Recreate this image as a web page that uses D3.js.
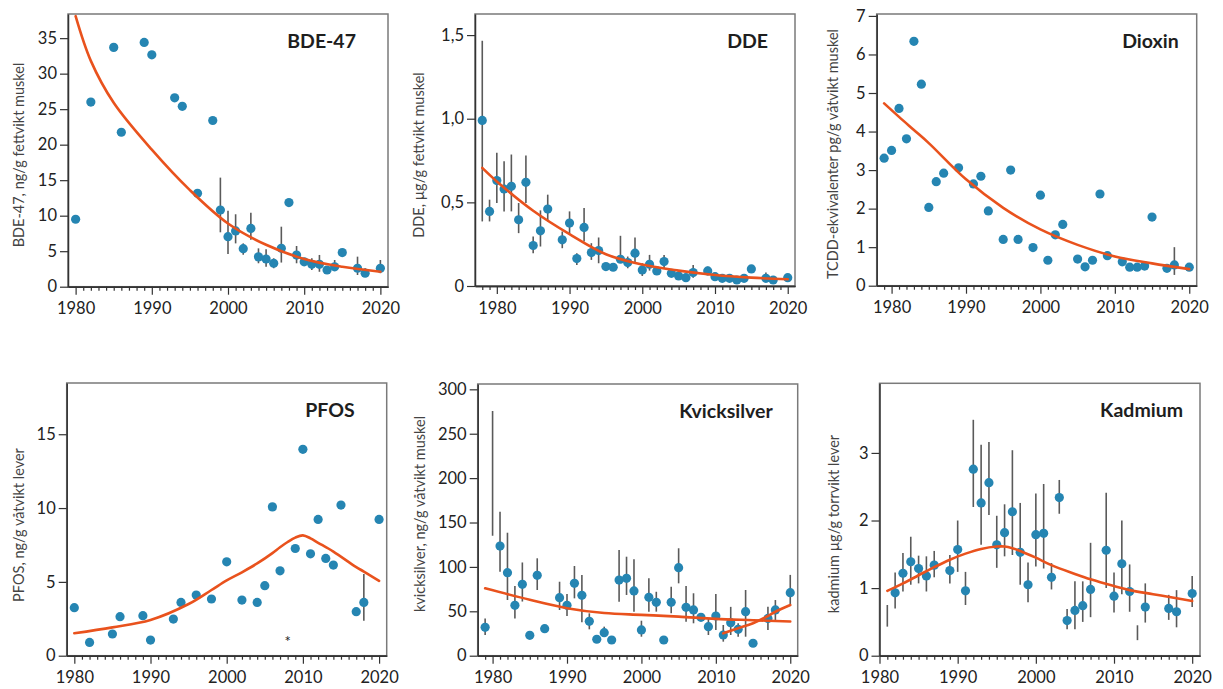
<!DOCTYPE html>
<html><head><meta charset="utf-8">
<script src="https://cdn.jsdelivr.net/npm/d3@7"></script>
<style>
body{margin:0;background:#fff;}
svg text{font-family:Lato,'Open Sans',sans-serif;}
</style></head><body>
<svg id="chart" width="1223" height="689"></svg>
<script>
// ---------------- DATA ----------------
// BDE-47
const bdeYears  = [1980,1982,1985,1986,1989,1990,1993,1994,1996,1998,1999,2000,2001,2002,2003,2004,2005,2006,2007,2008,2009,2010,2011,2012,2013,2014,2015,2017,2018,2020];
const bdeValues = [9.5,26.0,33.7,21.75,34.4,32.65,26.6,25.4,13.15,23.4,10.8,7.05,7.85,5.35,8.2,4.2,3.9,3.3,5.4,11.85,4.45,3.5,3.15,3.15,2.35,2.8,4.8,2.6,1.9,2.6];
const bdeHi     = [null,null,null,null,null,null,null,null,null,null,15.36,10.7,10.2,6.1,10.4,5.4,5.27,4.0,8.45,null,5.73,null,4.0,4.47,null,3.76,null,4.23,2.6,3.76];
const bdeLo     = [null,null,null,null,null,null,null,null,null,null,7.66,4.6,6.1,4.5,6.6,3.3,2.82,2.6,3.4,null,3.3,null,2.35,2.1,null,2.25,null,1.65,1.4,1.9];
const bdeTrendYears  = [1980,1982,1985,1990,1995,2000,2005,2010,2015,2020];
const bdeTrendValues = [38.1,31.8,25.9,19.3,13.6,8.9,5.9,3.9,2.8,2.1];
const bdeYTicks = [0,5,10,15,20,25,30,35];

// DDE
const ddeYears  = [1978,1979,1980,1981,1982,1983,1984,1985,1986,1987,1989,1990,1991,1992,1993,1994,1995,1996,1997,1998,1999,2000,2001,2002,2003,2004,2005,2006,2007,2009,2010,2011,2012,2013,2014,2015,2017,2018,2020];
const ddeValues = [0.99,0.446,0.63,0.58,0.596,0.396,0.62,0.242,0.33,0.46,0.276,0.376,0.164,0.35,0.2,0.212,0.116,0.112,0.16,0.14,0.196,0.096,0.13,0.09,0.146,0.076,0.06,0.05,0.08,0.09,0.056,0.046,0.046,0.036,0.046,0.102,0.046,0.036,0.05];
const ddeHi     = [1.466,0.516,0.796,0.746,0.786,0.496,0.78,0.296,0.452,0.546,0.326,0.446,0.196,0.466,0.256,0.29,null,null,0.3,0.176,0.29,0.136,0.186,null,0.186,null,null,null,0.126,0.116,null,null,null,null,null,null,0.08,null,null];
const ddeLo     = [0.386,0.386,0.496,0.446,0.446,0.316,0.496,0.196,0.236,0.386,0.226,0.316,0.126,0.266,0.156,0.136,null,null,0.14,0.106,0.136,0.06,0.092,null,0.106,null,null,null,0.05,0.064,null,null,null,null,null,null,0.026,null,null];
const ddeTrendYears  = [1978,1980,1985,1990,1995,2000,2005,2010,2015,2020];
const ddeTrendValues = [0.706,0.625,0.45,0.31,0.19,0.128,0.092,0.066,0.05,0.04];
const ddeYTicks = [0,0.5,1.0,1.5];

// Dioxin
const dioYears  = [1979,1980,1981,1982,1983,1984,1985,1986,1987,1989,1991,1992,1993,1995,1996,1997,1999,2000,2001,2002,2003,2005,2006,2007,2008,2009,2011,2012,2013,2014,2015,2017,2018,2020];
const dioValues = [3.31,3.51,4.6,3.81,6.34,5.23,2.03,2.7,2.92,3.06,2.64,2.84,1.94,1.2,3.0,1.2,0.99,2.35,0.66,1.32,1.59,0.69,0.49,0.66,2.38,0.78,0.62,0.48,0.48,0.51,1.78,0.45,0.54,0.48];
const dioHi     = dioYears.map(y => y === 2018 ? 1.0 : null);
const dioLo     = dioYears.map(y => y === 2018 ? 0.28 : null);
const dioTrendYears  = [1979,1981,1983,1985,1990,1995,2000,2005,2010,2015,2020];
const dioTrendValues = [4.73,4.38,4.04,3.70,2.76,2.02,1.46,1.06,0.76,0.58,0.43];
const dioYTicks = [0,1,2,3,4,5,6,7];

// PFOS
const pfosYears  = [1980,1982,1985,1986,1989,1990,1993,1994,1996,1998,2000,2002,2004,2005,2006,2007,2009,2010,2011,2012,2013,2014,2015,2017,2018,2020];
const pfosValues = [3.25,0.9,1.47,2.64,2.71,1.06,2.48,3.61,4.11,3.84,6.36,3.77,3.61,4.74,10.08,5.75,7.26,13.98,6.9,9.23,6.59,6.14,10.2,2.98,3.61,9.23];
const pfosHi     = pfosYears.map(y => y === 2018 ? 5.53 : null);
const pfosLo     = pfosYears.map(y => y === 2018 ? 2.37 : null);
const pfosTrendYears  = [1980,1985,1990,1995,1998,2000,2002,2004,2006,2007,2008,2009,2010,2011,2012,2014,2017,2018,2020];
const pfosTrendValues = [1.52,1.92,2.42,3.5,4.45,5.1,5.65,6.25,6.95,7.35,7.7,8.0,8.15,7.95,7.65,7.05,6.0,5.7,5.07];
const pfosNoteYear = 2008, pfosNoteValue = 0.6, pfosNoteText = "*";
const pfosYTicks = [0,5,10,15];

// Kvicksilver
const hgYears  = [1979,1980,1981,1982,1983,1984,1985,1986,1987,1989,1990,1991,1992,1993,1994,1995,1996,1997,1998,1999,2000,2001,2002,2003,2004,2005,2006,2007,2008,2009,2010,2011,2012,2013,2014,2015,2017,2018,2020];
const hgValues = [32,null,123.5,93.5,56.7,80.4,23,90.5,30.4,65.3,56.7,81.5,68,38.7,18.5,25.9,17.7,85.2,87.1,72.9,29,65.8,60.1,17.7,60.1,99.1,54.5,51.5,43.2,32.7,44.7,23.3,37.2,29.7,49.6,14,42,51.5,71];
const hgHi     = [42,275.6,162,138.5,78.5,105,null,109.7,null,83.3,69.5,101,90.9,47.7,null,32.7,null,119,111.5,108.6,39.4,87.2,72,null,77.7,121,78.5,70.3,null,42,69.5,34.6,55,36.5,74,null,55.2,62.7,91];
const hgLo     = [23.3,135.1,94.6,62.7,42,61,null,74,null,51.5,44.7,64.6,37.6,29.7,null,21.4,null,60.8,68.4,49.6,21.4,49.6,49.6,null,47.7,81.5,38.3,36.5,null,23.3,29,15.8,23.3,21.4,21.4,null,29,40.2,57];
const hgTrendYears  = [1979,1985,1990,1995,2000,2005,2010,2015,2020];
const hgTrendValues = [75.9,63,53.5,48,46,44,41.5,40,38.5];
const hgTrend2Years  = [2011,2013,2015,2017,2018,2020];
const hgTrend2Values = [25.2,30.9,36.5,44.7,49.5,57.1];
const hgYTicks = [0,50,100,150,200,250,300];

// Kadmium
const cdYears  = [1981,1982,1983,1984,1985,1986,1987,1989,1990,1991,1992,1993,1994,1995,1996,1997,1998,1999,2000,2001,2002,2003,2004,2005,2006,2007,2009,2010,2011,2012,2013,2014,2017,2018,2020];
const cdValues = [null,0.93,1.22,1.39,1.29,1.18,1.34,1.26,1.57,0.96,2.76,2.26,2.56,1.64,1.82,2.13,1.53,1.05,1.79,1.81,1.16,2.34,0.52,0.67,0.74,0.98,1.56,0.88,1.36,0.95,null,0.72,0.70,0.65,0.92];
const cdHi     = [0.75,1.23,1.52,1.76,1.48,1.47,1.55,1.49,2.0,1.24,3.49,3.12,3.16,2.07,2.24,3.04,2.26,1.38,2.4,2.54,1.37,2.6,0.69,1.1,1.1,1.67,2.41,1.23,2.0,1.35,0.45,1.07,0.9,0.97,1.18];
const cdLo     = [0.43,0.70,0.95,1.05,1.07,0.95,1.16,1.07,1.24,0.75,2.2,1.64,2.08,1.3,1.47,1.49,1.05,0.79,1.32,1.29,0.98,2.1,0.39,0.39,0.5,0.57,1.0,0.64,0.91,0.65,0.23,0.49,0.53,0.42,0.72];
const cdTrendYears  = [1981,1983,1985,1987,1989,1991,1993,1995,1996,1997,1998,2000,2002,2005,2007,2010,2012,2015,2018,2020];
const cdTrendValues = [0.96,1.07,1.19,1.31,1.42,1.51,1.58,1.615,1.615,1.59,1.55,1.45,1.34,1.21,1.13,1.03,0.97,0.91,0.85,0.81];
const cdYTicks = [0,1,2,3];

const xTicks = [1980,1990,2000,2010,2020];

// ---------------- PANELS ----------------
const commaFmt = v => (v === 0 ? "0" : d3.format(".1f")(v).replace(".", ","));
const intFmt = d3.format("d");
const panels = [
  {title:"BDE-47", ylabel:"BDE-47, ng/g fettvikt muskel", years:bdeYears, values:bdeValues, hi:bdeHi, lo:bdeLo,
   trends:[[bdeTrendYears,bdeTrendValues]], yTicks:bdeYTicks, fmt:intFmt,
   xDomain:[1979,2021], yDomain:[0,38.4], box:[68,14,388,286.7], titleRight:32, ylabX:18, ylabY:155},
  {title:"DDE", ylabel:"DDE, µg/g fettvikt muskel", years:ddeYears, values:ddeValues, hi:ddeHi, lo:ddeLo,
   trends:[[ddeTrendYears,ddeTrendValues]], yTicks:ddeYTicks, fmt:commaFmt,
   xDomain:[1977,2021], yDomain:[0,1.626], box:[475,14,795,286], titleRight:27, ylabX:418, ylabY:155},
  {title:"Dioxin", ylabel:"TCDD-ekvivalenter pg/g våtvikt muskel", years:dioYears, values:dioValues, hi:dioHi, lo:dioLo,
   trends:[[dioTrendYears,dioTrendValues]], yTicks:dioYTicks, fmt:intFmt,
   xDomain:[1978,2021], yDomain:[0,7.05], box:[876.7,14,1196.7,285.7], titleRight:18, ylabX:832.5, ylabY:154},
  {title:"PFOS", ylabel:"PFOS, ng/g våtvikt lever", years:pfosYears, values:pfosValues, hi:pfosHi, lo:pfosLo,
   trends:[[pfosTrendYears,pfosTrendValues]], yTicks:pfosYTicks, fmt:intFmt,
   xDomain:[1979,2021], yDomain:[0,18.47], box:[66.7,383,386.7,655.7], titleRight:32, ylabX:18.3, ylabY:525,
   note:[pfosNoteYear,pfosNoteValue,pfosNoteText]},
  {title:"Kvicksilver", ylabel:"kvicksilver, ng/g våtvikt muskel", years:hgYears, values:hgValues, hi:hgHi, lo:hgLo,
   trends:[[hgTrendYears,hgTrendValues],[hgTrend2Years,hgTrend2Values]], yTicks:hgYTicks, fmt:intFmt,
   xDomain:[1978,2021], yDomain:[0,306], box:[477.7,384,797.7,655.7], titleRight:25, ylabX:419, ylabY:514},
  {title:"Kadmium", ylabel:"kadmium µg/g torrvikt lever", years:cdYears, values:cdValues, hi:cdHi, lo:cdLo,
   trends:[[cdTrendYears,cdTrendValues]], yTicks:cdYTicks, fmt:intFmt,
   xDomain:[1980,2021], yDomain:[0,4.03], box:[879.5,383.3,1200,655.7], titleRight:17, ylabX:833, ylabY:524}
];

const svg = d3.select("#chart");
const DOT = "#2585b2", LINE = "#e9521d", ERR = "#5a5a5a";

panels.forEach(p => {
  const [L,T,R,B] = p.box;
  const x = d3.scaleLinear().domain(p.xDomain).range([L,R]);
  const y = d3.scaleLinear().domain(p.yDomain).range([B,T]);
  const g = svg.append("g");

  // frame
  g.append("rect").attr("x",L).attr("y",T).attr("width",R-L).attr("height",B-T)
    .attr("fill","none").attr("stroke","#7a7a7a").attr("stroke-width",1.5);

  // y axis
  const ya = g.append("g").attr("transform",`translate(${L},0)`)
    .call(d3.axisLeft(y).tickValues(p.yTicks).tickFormat(p.fmt).tickSize(8).tickSizeOuter(0).tickPadding(3));
  // x minor ticks
  const minor = d3.range(Math.ceil(p.xDomain[0]), p.xDomain[1]+1).filter(v => v % 10 !== 0 && v > p.xDomain[0] && v < p.xDomain[1]);
  const xm = g.append("g").attr("transform",`translate(0,${B})`)
    .call(d3.axisBottom(x).tickValues(minor).tickFormat("").tickSize(4).tickSizeOuter(0));
  const xa = g.append("g").attr("transform",`translate(0,${B})`)
    .call(d3.axisBottom(x).tickValues(xTicks).tickFormat(intFmt).tickSize(8).tickSizeOuter(0).tickPadding(8));
  [ya,xm,xa].forEach(a => {
    a.select(".domain").attr("stroke","#333").attr("stroke-width",1.5);
    a.selectAll(".tick line").attr("stroke","#333").attr("stroke-width",1.2);
    a.selectAll(".tick text").attr("fill","#222").style("font-size","16.5px");
  });

  // error bars
  const idx = d3.range(p.years.length);
  g.append("g").selectAll("line").data(idx.filter(i => p.hi[i] != null)).join("line")
    .attr("x1",i => x(p.years[i])).attr("x2",i => x(p.years[i]))
    .attr("y1",i => y(p.lo[i])).attr("y2",i => y(p.hi[i]))
    .attr("stroke",ERR).attr("stroke-width",1.6);

  // dots
  g.append("g").selectAll("circle").data(idx.filter(i => p.values[i] != null)).join("circle")
    .attr("cx",i => x(p.years[i])).attr("cy",i => y(p.values[i])).attr("r",4.6)
    .attr("fill",DOT);

  // trend lines
  p.trends.forEach(([ty,tv]) => {
    const line = d3.line().x(i => x(ty[i])).y(i => y(tv[i])).curve(d3.curveCatmullRom.alpha(0.5));
    g.append("path").attr("d", line(d3.range(ty.length)))
      .attr("fill","none").attr("stroke",LINE).attr("stroke-width",2.6).attr("stroke-linecap","round");
  });

  if (p.note) {
    g.append("text").attr("x",x(p.note[0])).attr("y",y(p.note[1])).attr("text-anchor","middle")
      .attr("fill","#222").style("font-size","15px").text(p.note[2]);
  }

  // title
  g.append("text").attr("x",R - p.titleRight).attr("y",T + 33.5).attr("text-anchor","end")
    .attr("fill","#1e1e1e").style("font-size","19.5px").style("font-weight","700").text(p.title);

  // y label
  g.append("text").attr("transform",`translate(${p.ylabX},${p.ylabY}) rotate(-90)`)
    .attr("text-anchor","middle").attr("dominant-baseline","central")
    .attr("fill","#444").style("font-size","14.5px").text(p.ylabel);
});
</script>
</body></html>
